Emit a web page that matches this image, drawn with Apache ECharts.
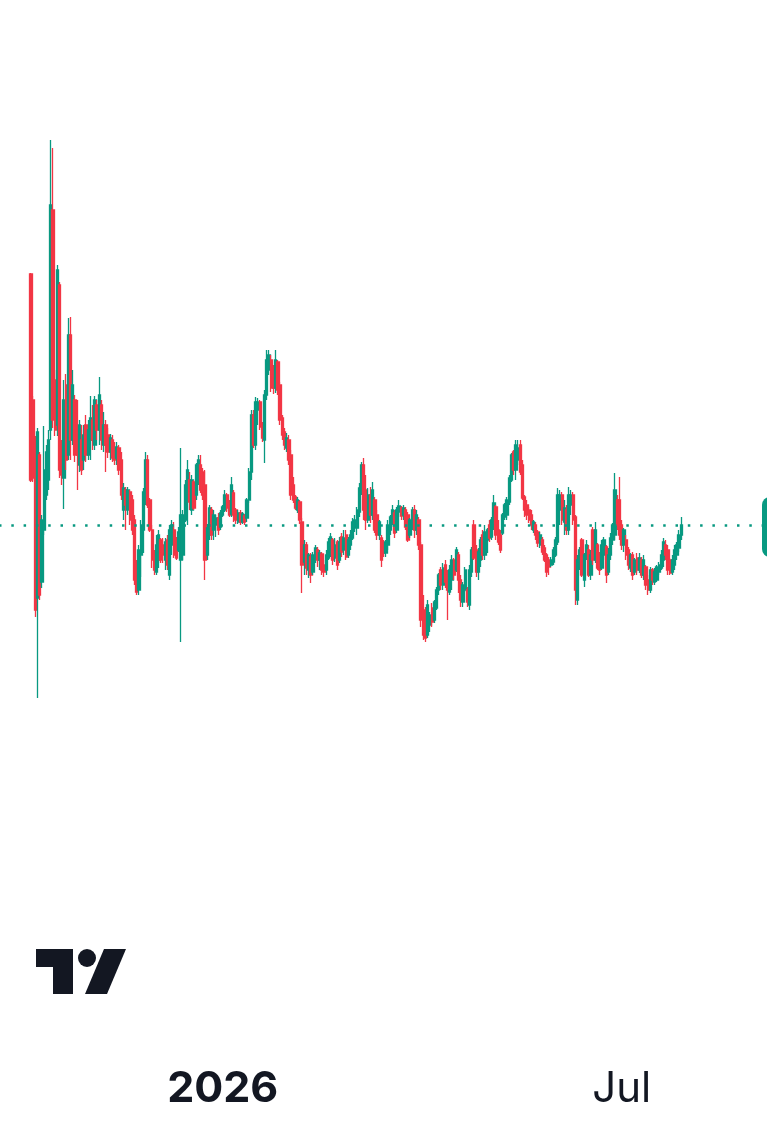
<!DOCTYPE html>
<html>
<head>
<meta charset="utf-8">
<script src="https://cdn.jsdelivr.net/npm/echarts@6/dist/echarts.min.js"></script>
<style>
html,body{margin:0;padding:0;background:#ffffff;}
#chart{width:767px;height:1129px;}
</style>
</head>
<body>
<div id="chart"></div>
<script>
// ---- data (daily candles, 2025-10-06 .. 2026-07-28) ----
const firstDate = '2025-10-06';
const openP = [
726,600,560,402,545,418,470,505,520,570,
790,620,575,715,540,522,615,545,665,560,
600,570,535,560,540,575,545,560,580,555,
595,570,595,555,575,565,548,560,550,542,
552,540,490,510,490,508,500,480,437,410,
445,470,500,540,500,470,445,428,440,460,
455,440,460,425,455,470,458,450,440,445,
480,500,520,490,518,505,520,535,528,515,
445,465,490,470,475,482,473,485,490,505,
497,486,507,490,478,487,478,484,482,500,
528,585,555,590,598,575,560,605,630,640,
625,612,638,615,582,568,552,560,545,515,
503,490,498,478,438,455,430,443,428,442,
450,440,446,435,430,442,448,460,442,458,
440,463,450,465,445,455,462,472,472,488,
510,535,510,480,505,485,500,485,465,462,
455,447,455,470,478,487,470,488,492,485,
490,485,465,478,490,470,480,455,390,375,
365,375,392,380,392,410,430,415,435,425,
408,420,440,430,445,420,398,410,410,395,
428,475,450,428,440,465,445,460,475,463,
478,493,470,465,467,483,485,498,520,548,
530,540,555,535,503,495,490,485,470,475,
468,455,460,452,445,440,435,438,445,458,
490,505,478,490,470,495,505,483,400,438,
460,420,445,450,425,470,440,455,445,432,
445,453,428,445,460,465,500,500,475,455,
460,450,432,445,428,442,430,440,425,433,
420,410,430,418,420,428,432,440,455,450,
440,428,435,445,452,465
];
const closeP = [
520,522,390,568,405,480,530,548,560,795,
580,570,730,530,525,600,540,665,560,615,
545,545,575,530,565,545,570,582,560,600,
570,605,560,575,555,548,562,542,540,553,
530,505,512,495,510,480,470,420,408,450,
475,508,540,495,470,440,430,455,465,440,
445,458,435,470,475,445,442,468,485,485,
515,530,498,520,492,535,540,510,505,440,
472,492,465,485,482,470,487,493,505,492,
485,515,485,480,487,478,486,478,500,528,
585,555,598,598,573,562,605,640,645,612,
612,640,610,580,565,555,562,540,505,500,
492,500,480,435,455,432,445,425,445,452,
440,447,430,428,445,458,463,440,455,435,
458,448,462,443,460,465,478,480,490,512,
535,490,480,505,485,510,470,465,478,440,
447,458,475,483,490,467,490,494,484,492,
473,460,480,490,470,485,455,380,365,362,
395,385,378,398,410,425,415,432,418,410,
430,440,425,450,420,400,415,430,398,430,
450,442,428,448,460,445,468,470,462,480,
497,465,458,450,485,495,500,522,545,530,
555,552,528,502,490,485,480,475,478,465,
457,465,448,440,428,433,440,450,460,505,
505,480,492,470,505,505,480,410,440,450,
425,445,455,425,445,440,470,432,430,455,
460,425,445,462,475,510,475,465,455,470,
445,435,445,425,440,430,442,425,440,415,
410,430,420,428,433,435,445,458,445,430,
427,440,450,455,465,475
];
const highP = [
727,604,564,572,548,485,574,555,570,860,
852,630,735,718,560,620,626,682,683,630,
605,600,580,575,575,585,580,604,595,604,
600,623,600,588,580,572,566,565,558,558,
555,548,517,513,513,510,505,485,440,455,
480,512,548,545,502,475,450,465,470,462,
462,462,465,475,480,478,463,473,552,490,
520,540,528,525,520,537,545,545,532,530,
476,495,493,490,485,487,490,495,510,507,
500,523,510,492,490,490,488,486,502,532,
590,590,603,602,600,578,610,650,650,645,
635,650,640,618,585,572,567,565,550,523,
505,503,500,482,460,458,447,447,448,455,
453,450,448,440,450,462,467,462,462,460,
463,467,470,470,463,470,482,485,493,517,
538,542,525,512,513,518,503,490,480,465,
460,460,480,485,495,490,493,500,494,495,
493,488,482,493,495,490,483,458,405,393,
400,388,397,400,413,427,433,437,440,430,
435,445,442,453,448,425,418,433,413,435,
453,480,455,452,463,470,475,472,480,483,
505,495,480,470,487,497,503,525,547,550,
560,560,560,540,505,500,493,490,480,478,
470,468,463,455,447,443,443,453,463,512,
510,508,500,495,513,510,508,485,445,453,
462,447,460,455,450,473,478,457,448,460,
463,455,452,467,477,527,505,523,480,472,
465,453,447,448,442,447,447,443,445,435,
425,433,432,432,435,438,450,462,460,455,
442,445,455,458,470,483
];
const lowP = [
518,518,383,302,400,412,465,500,510,560,
572,564,564,522,515,491,530,540,540,555,
538,510,528,525,530,538,540,540,550,550,
560,555,550,548,528,542,540,538,535,535,
525,500,480,470,485,475,465,415,405,405,
423,447,495,492,468,432,425,425,432,437,
437,430,430,420,445,442,440,448,358,440,
478,475,490,485,490,500,515,507,500,420,
440,460,460,460,463,465,470,483,488,488,
483,483,478,476,476,475,476,475,478,497,
520,552,550,575,570,558,537,600,625,608,
606,607,605,575,560,550,548,535,500,497,
490,487,476,407,425,425,422,417,425,437,
433,430,425,423,425,440,443,435,438,430,
437,443,445,440,442,450,460,468,465,483,
505,480,470,477,477,480,467,460,460,433,
443,443,450,465,475,462,467,483,480,480,
470,458,462,470,462,465,450,373,360,358,
362,368,373,377,390,405,410,410,412,380,
405,410,420,428,407,393,393,408,393,390,
423,440,423,420,433,440,440,447,458,460,
470,460,455,447,465,480,480,495,518,525,
520,535,525,500,483,480,477,470,467,460,
453,452,445,438,423,425,433,435,443,455,
475,475,465,465,465,485,475,395,395,430,
423,413,440,423,420,435,437,430,425,430,
440,417,425,440,455,460,470,460,450,448,
440,430,428,420,425,425,427,422,420,410,
405,407,415,415,418,425,430,433,440,425,
425,425,430,440,448,460
];
const lastPrice = 475;
const tickLabels = { '2026-01-01': '2026', '2026-07-01': 'Jul' };
const boldTicks = ['2026-01-01'];

// ---- layout ----
const leadDays = 14, tailDays = 50;
const step = 2.2044;
const UP = '#089981', DOWN = '#F23645', INK = '#131722';

function fmt(d){
  const m = d.getUTCMonth()+1, dd = d.getUTCDate();
  return d.getUTCFullYear()+'-'+(m<10?'0':'')+m+'-'+(dd<10?'0':'')+dd;
}
const n = openP.length;
const total = leadDays + n + tailDays;
const start = new Date(firstDate+'T00:00:00Z');
start.setUTCDate(start.getUTCDate()-leadDays);
const cats = [];
for (let k=0;k<total;k++){ const d=new Date(start); d.setUTCDate(d.getUTCDate()+k); cats.push(fmt(d)); }
const seriesData = [];
for (let k=0;k<leadDays;k++) seriesData.push('-');
for (let i=0;i<n;i++) seriesData.push([openP[i], closeP[i], lowP[i], highP[i]]);

const chart = echarts.init(document.getElementById('chart'), null, {renderer:'canvas'});
chart.setOption({
  backgroundColor:'#ffffff',
  animation:false,
  grid:{left:-1, top:0, width: total*step, height:1000, outerBoundsMode:'none'},
  xAxis:{
    type:'category', data:cats, boundaryGap:true,
    axisLine:{show:false}, axisTick:{show:false}, splitLine:{show:false},
    axisLabel:{
      show:true, margin:68, interval:0, hideOverlap:false,
      formatter:function(val){ const t = tickLabels[val]; if(!t) return ''; return boldTicks.indexOf(val)>=0 ? '{b|'+t+'}' : '{r|'+t+'}'; },
      rich:{
        b:{fontFamily:'Inter', fontWeight:'bold', fontSize:43, color:INK, lineHeight:43},
        r:{fontFamily:'Inter', fontWeight:'normal', fontSize:42, color:INK, lineHeight:43}
      }
    }
  },
  yAxis:{type:'value', min:0, max:1000, show:false, splitLine:{show:false}},
  series:[{
    type:'candlestick',
    data:seriesData,
    barWidth:2.8,
    itemStyle:{color:UP, color0:DOWN, borderColor:UP, borderColor0:DOWN, borderWidth:1.3},
    markLine:{
      silent:true, symbol:['none','none'],
      label:{show:false},
      lineStyle:{color:UP, type:[2.5,9.8], width:2.5},
      data:[{yAxis:lastPrice}]
    }
  }],
  graphic:[
    {type:'polygon', shape:{points:[[36,949],[73,949],[73,994],[53,994],[53,967],[36,967]]}, style:{fill:INK}},
    {type:'circle', shape:{cx:87, cy:958, r:9}, style:{fill:INK}},
    {type:'polygon', shape:{points:[[104,949],[126,949],[107,994],[85,994]]}, style:{fill:INK}},
    {type:'rect', shape:{x:762, y:497, width:30, height:60, r:8}, style:{fill:UP}}
  ]
});
</script>
</body>
</html>
